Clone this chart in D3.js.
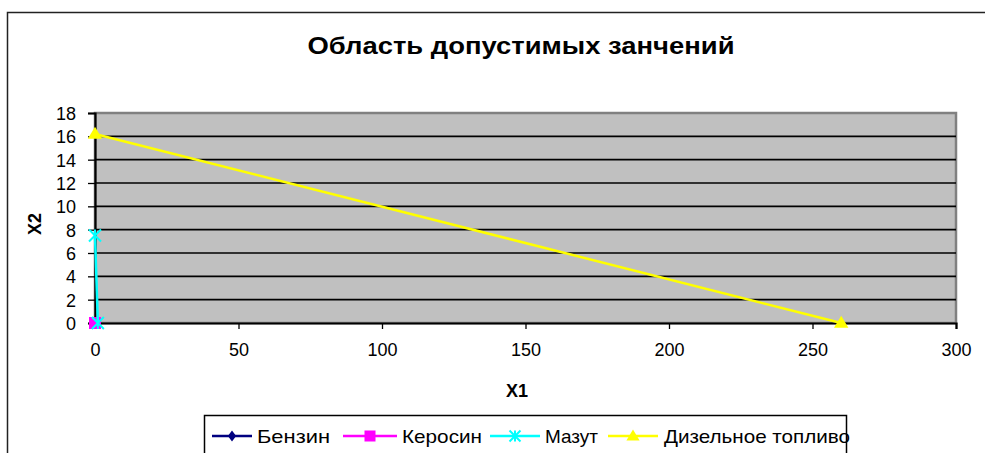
<!DOCTYPE html>
<html><head><meta charset="utf-8">
<script src="https://cdn.jsdelivr.net/npm/d3@7"></script>
<style>body{margin:0;background:#fff}svg{display:block}text{font-family:"Liberation Sans",Arial,sans-serif}</style>
</head><body>
<svg id="c" width="985" height="453"></svg>
<script>
const title = "Область допустимых занчений";
const seriesNames = ["Бензин", "Керосин", "Мазут", "Дизельное топливо"];
const seriesColors = ["#000080", "#FF00FF", "#00FFFF", "#FFFF00"];
const seriesMarkers = ["diamond", "square", "star", "triangle"];
const benzinX = [0, 0]; const benzinY = [0, 0];
const kerosinX = [0, 0]; const kerosinY = [0, 0];
const mazutX = [0, 1]; const mazutY = [7.5, 0];
const dieselX = [0, 260]; const dieselY = [16.2, 0];
const xTicks = [0, 50, 100, 150, 200, 250, 300];
const yTicks = [0, 2, 4, 6, 8, 10, 12, 14, 16, 18];

const svg = d3.select("#c");
const L = 95, R = 956, T = 113, B = 323;
const x = d3.scaleLinear().domain([0, 300]).range([L, R]);
const y = d3.scaleLinear().domain([0, 18]).range([B, T]);

// outer chart border
svg.append("rect").attr("x", 7.5).attr("y", 12.5).attr("width", 1200).attr("height", 600)
  .attr("fill", "#fff").attr("stroke", "#222").attr("stroke-width", 1.5);

svg.append("text").attr("x", 521).attr("y", 54).attr("text-anchor", "middle")
  .attr("font-size", 23).attr("font-weight", "bold").attr("textLength", 427)
  .attr("lengthAdjust", "spacingAndGlyphs").text(title);

// plot area
svg.append("rect").attr("x", L).attr("y", T).attr("width", R - L).attr("height", B - T)
  .attr("fill", "#C0C0C0").attr("stroke", "#808080").attr("stroke-width", 2.5);

// gridlines
svg.append("g").selectAll("line").data(yTicks.filter(d => d > 0 && d < 18)).join("line")
  .attr("x1", L).attr("x2", R).attr("y1", d => y(d)).attr("y2", d => y(d))
  .attr("stroke", "#000").attr("stroke-width", 1.6);

// axes
const yAxis = svg.append("g").attr("transform", `translate(${L},0)`)
  .call(d3.axisLeft(y).tickValues(yTicks).tickSize(7).tickPadding(12));
const xAxis = svg.append("g").attr("transform", `translate(0,${B})`)
  .call(d3.axisBottom(x).tickValues(xTicks).tickSize(6).tickPadding(14));
[yAxis, xAxis].forEach(g => {
  g.select(".domain").attr("stroke", "#000").attr("stroke-width", 2.2);
  g.selectAll(".tick line").attr("stroke", "#000").attr("stroke-width", 1.3);
  g.selectAll("text").attr("font-size", 18).attr("fill", "#000")
    .attr("font-family", "'Liberation Sans',Arial,sans-serif");
});
yAxis.selectAll("text").attr("dy", "0.36em");

svg.append("text").attr("x", 517).attr("y", 397).attr("text-anchor", "middle")
  .attr("font-size", 18).attr("font-weight", "bold").text("X1");
svg.append("text").attr("transform", "translate(41,224) rotate(-90)").attr("text-anchor", "middle")
  .attr("font-size", 18).attr("font-weight", "bold").text("X2");

function marker(g, type, color, cx, cy, s) {
  if (type === "diamond") g.append("path").attr("d", `M${cx},${cy-s}L${cx+s*0.75},${cy}L${cx},${cy+s}L${cx-s*0.75},${cy}Z`).attr("fill", color);
  else if (type === "square") g.append("rect").attr("x", cx - s).attr("y", cy - s).attr("width", 2*s).attr("height", 2*s).attr("fill", color);
  else if (type === "triangle") g.append("path").attr("d", `M${cx},${cy-s*1.2}L${cx+s*1.2},${cy+s*0.8}L${cx-s*1.2},${cy+s*0.8}Z`).attr("fill", color);
  else if (type === "star") {
    g.append("path").attr("d", `M${cx-s},${cy-s}L${cx+s},${cy+s}M${cx-s},${cy+s}L${cx+s},${cy-s}M${cx},${cy-s}L${cx},${cy+s}`)
      .attr("stroke", color).attr("stroke-width", 2);
  }
}

const data = [[benzinX, benzinY], [kerosinX, kerosinY], [mazutX, mazutY], [dieselX, dieselY]];
const line = d3.line().x(d => x(d[0])).y(d => y(d[1]));
const plot = svg.append("g");
data.forEach(([xs, ys], i) => {
  const pts = xs.map((v, j) => [v, ys[j]]);
  plot.append("path").attr("d", line(pts)).attr("fill", "none")
    .attr("stroke", seriesColors[i]).attr("stroke-width", 2.5);
  pts.forEach(p => marker(plot, seriesMarkers[i], seriesColors[i], x(p[0]), y(p[1]), 6));
});

// legend
const lg = svg.append("g");
lg.append("rect").attr("x", 204.5).attr("y", 415.5).attr("width", 642).attr("height", 60)
  .attr("fill", "#fff").attr("stroke", "#000").attr("stroke-width", 1.5);
const legX = [212, 343, 490, 608];
const legW = [40, 54, 50, 50];
const textX = [257, 402, 545, 664];
const textW = [73, 80, 53, 186];
seriesNames.forEach((n, i) => {
  lg.append("line").attr("x1", legX[i]).attr("x2", legX[i] + legW[i]).attr("y1", 436).attr("y2", 436)
    .attr("stroke", seriesColors[i]).attr("stroke-width", 2.5);
  marker(lg, seriesMarkers[i], seriesColors[i], legX[i] + legW[i] / 2, 436, 5.5);
  lg.append("text").attr("x", textX[i]).attr("y", 443).attr("font-size", 19)
    .attr("textLength", textW[i]).attr("lengthAdjust", "spacingAndGlyphs").text(n);
});
</script>
</body></html>
